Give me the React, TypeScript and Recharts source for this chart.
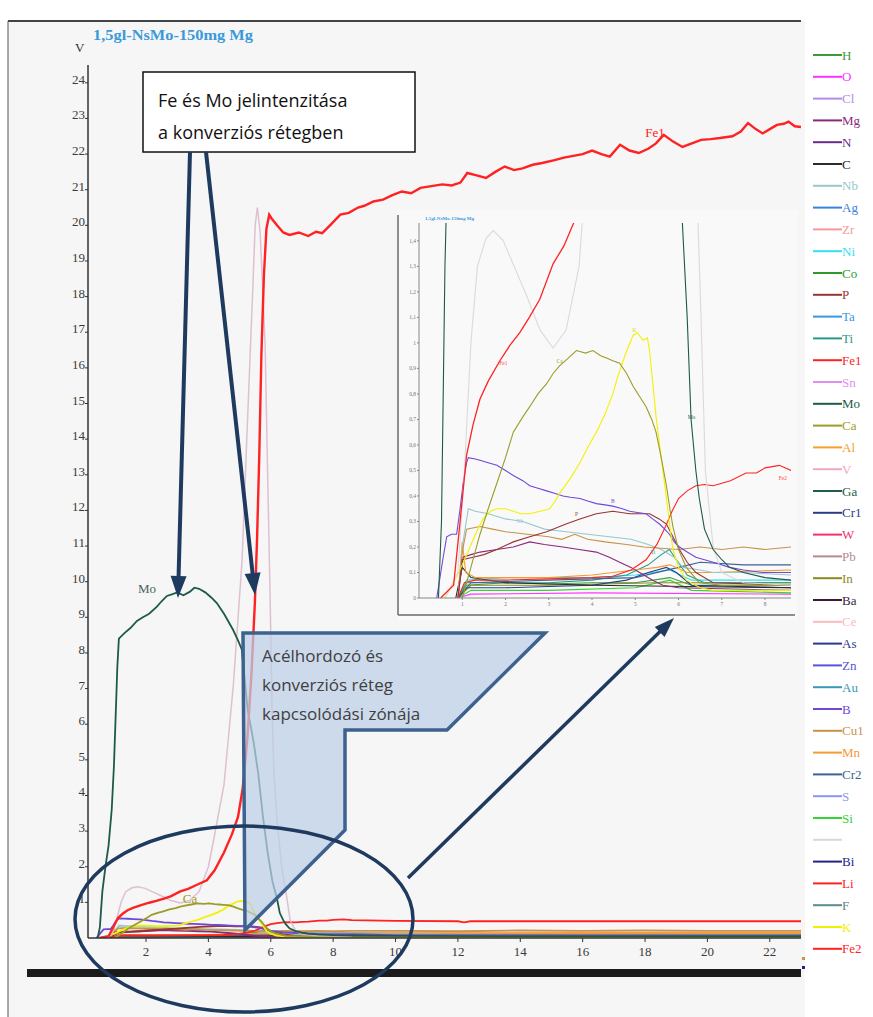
import React from 'react';
import { LineChart, Line, XAxis, YAxis, ReferenceDot } from 'recharts';

type Pt = [number, number];

// ---------- legend ----------
const LEGEND_NAMES = ['H','O','Cl','Mg','N','C','Nb','Ag','Zr','Ni','Co','P','Ta','Ti','Fe1','Sn','Mo','Ca','Al','V','Ga','Cr1','W','Pb','In','Ba','Ce','As','Zn','Au','B','Cu1','Mn','Cr2','S','Si','','Bi','Li','F','K','Fe2'];
const LEGEND_COLORS = ['#3c9a3c','#ff33ff','#b38ce6','#8b2a7a','#6a2a8a','#2b2b2b','#96c8cc','#3a80e0','#f49a9a','#33e0ee','#2e9a2e','#9a3333','#3a96e0','#2a9a88','#ff2222','#e08ef0','#1e5a48','#9c9c2a','#f5a030','#f2a6c6','#1e5e46','#2a3c88','#f2306e','#b88a8a','#8a8a22','#3c1a3c','#f8bcbc','#2a3a8e','#5454e0','#3a98b8','#7048d8','#c8924a','#f59a36','#3a6494','#8a96f0','#33d433','#d8d8d8','#222288','#ff2222','#5a8a8a','#f2f200','#ff2222'];

// ---------- ticks ----------
const MAIN_X_TICKS = [2, 4, 6, 8, 10, 12, 14, 16, 18, 20, 22];
const MAIN_Y_TICKS = [1,2,3,4,5,6,7,8,9,10,11,12,13,14,15,16,17,18,19,20,21,22,23,24];
const INSET_X_TICKS = [1, 2, 3, 4, 5, 6, 7, 8];
const INSET_Y_TICKS = [0,0.1,0.2,0.3,0.4,0.5,0.6,0.7,0.8,0.9,1,1.1,1.2,1.3,1.4];

// ---------- series (time s, intensity V) ----------
const FE1: Pt[] = [[0.5,0],[0.8,0.05],[0.95,0.3],[1.1,0.56],[1.25,0.68],[1.41,0.78],[1.6,0.85],[1.87,0.93],[2.1,0.99],[2.33,1.04],[2.55,1.1],[2.79,1.17],[3.1,1.31],[3.35,1.38],[3.6,1.48],[3.95,1.62],[4.2,1.9],[4.5,2.4],[4.75,2.9],[4.95,3.4],[5.1,4.2],[5.25,5.6],[5.38,7.4],[5.49,9.4],[5.56,11.2],[5.63,13.5],[5.7,16.4],[5.78,18.6],[5.86,19.9],[5.95,20.3],[6.02,20.2],[6.2,20.0],[6.4,19.8],[6.6,19.73],[6.9,19.8],[7.2,19.7],[7.45,19.82],[7.65,19.78],[7.9,20.0],[8.23,20.3],[8.5,20.35],[8.8,20.5],[9.0,20.55],[9.29,20.67],[9.6,20.72],[9.9,20.85],[10.2,20.95],[10.5,20.9],[10.8,21.05],[11.15,21.1],[11.5,21.15],[11.8,21.12],[12.08,21.2],[12.3,21.47],[12.6,21.4],[12.9,21.33],[13.2,21.5],[13.5,21.65],[13.8,21.55],[14.07,21.6],[14.4,21.7],[14.7,21.75],[15.1,21.83],[15.4,21.9],[15.7,21.95],[16.0,22.0],[16.3,22.1],[16.6,22.0],[16.87,21.93],[17.2,22.26],[17.5,22.1],[17.8,22.03],[18.1,22.15],[18.35,22.3],[18.6,22.54],[18.9,22.35],[19.2,22.2],[19.5,22.3],[19.8,22.4],[20.1,22.42],[20.4,22.45],[20.8,22.5],[21.07,22.63],[21.3,22.87],[21.55,22.7],[21.77,22.58],[22.0,22.7],[22.23,22.82],[22.45,22.85],[22.6,22.91],[22.8,22.78],[23,22.76]];
const MO: Pt[] = [[0.45,0],[0.52,0.3],[0.6,1.3],[0.7,2.0],[0.8,2.6],[0.9,3.6],[0.97,4.8],[1.03,6.3],[1.08,7.6],[1.13,8.4],[1.3,8.55],[1.5,8.7],[1.71,8.9],[1.9,9.0],[2.1,9.1],[2.35,9.3],[2.5,9.45],[2.67,9.6],[2.85,9.65],[3.0,9.7],[3.2,9.62],[3.41,9.72],[3.55,9.83],[3.7,9.8],[3.9,9.7],[4.1,9.55],[4.27,9.4],[4.5,9.1],[4.79,8.65],[4.95,8.35],[5.07,8.1],[5.17,7.2],[5.26,6.4],[5.45,5.5],[5.6,4.6],[5.75,3.4],[5.9,2.4],[6.05,1.6],[6.2,1.1],[6.29,0.7],[6.4,0.5],[6.48,0.39],[6.6,0.27],[6.8,0.19],[7.0,0.15],[7.18,0.12],[7.5,0.1],[8.0,0.08],[8.6,0.07],[10,0.06],[15,0.05],[23,0.05]];
const V: Pt[] = [[0.6,0],[0.9,0.1],[1.05,0.5],[1.2,1.0],[1.35,1.3],[1.55,1.41],[1.72,1.44],[1.95,1.4],[2.2,1.3],[2.5,1.18],[2.8,1.05],[3.1,0.98],[3.4,1.05],[3.7,1.3],[4.0,2.0],[4.2,2.9],[4.5,4.3],[4.8,7.1],[5.08,10.6],[5.24,14.2],[5.4,17.7],[5.5,20.0],[5.57,20.5],[5.66,19.8],[5.75,18.0],[5.82,16.6],[5.9,13],[5.98,9.5],[6.04,6.5],[6.1,4.6],[6.2,3.3],[6.35,2.0],[6.52,1.1],[6.62,0.5],[6.8,0.2],[7.0,0.1],[7.5,0.06],[8.6,0.05]];
const CA: Pt[] = [[1.0,0],[1.2,0.12],[1.41,0.25],[1.6,0.35],[1.8,0.45],[2.0,0.55],[2.18,0.65],[2.4,0.71],[2.56,0.75],[2.75,0.8],[2.95,0.84],[3.1,0.88],[3.25,0.91],[3.45,0.94],[3.64,0.97],[3.85,0.96],[4.02,0.97],[4.2,0.95],[4.35,0.94],[4.48,0.93],[4.64,0.92],[4.8,0.88],[4.95,0.83],[5.1,0.79],[5.25,0.75],[5.38,0.7],[5.48,0.65],[5.6,0.55],[5.72,0.44],[5.8,0.35],[5.87,0.28],[6.0,0.19],[6.18,0.12],[6.48,0.06],[7,0.05],[9,0.05],[23,0.05]];
const K: Pt[] = [[0.6,0],[0.87,0.085],[1.0,0.13],[1.18,0.2],[1.33,0.26],[1.48,0.31],[1.65,0.34],[1.8,0.35],[2.0,0.35],[2.18,0.34],[2.35,0.33],[2.56,0.33],[2.8,0.34],[3.02,0.35],[3.15,0.38],[3.25,0.41],[3.5,0.47],[3.72,0.53],[3.9,0.59],[4.1,0.65],[4.3,0.72],[4.48,0.8],[4.6,0.87],[4.72,0.93],[4.85,0.99],[4.95,1.03],[5.05,1.04],[5.18,1.01],[5.28,1.02],[5.33,0.97],[5.4,0.85],[5.48,0.71],[5.6,0.55],[5.72,0.39],[5.8,0.28],[5.87,0.19],[6.0,0.12],[6.18,0.07],[6.5,0.04],[6.8,0.03],[8,0.03],[23,0.03]];
const B: Pt[] = [[0.41,0],[0.55,0.15],[0.64,0.24],[0.75,0.25],[0.87,0.25],[0.95,0.35],[1.02,0.45],[1.1,0.53],[1.14,0.55],[1.3,0.545],[1.41,0.54],[1.6,0.53],[1.8,0.52],[2.0,0.5],[2.18,0.48],[2.4,0.46],[2.56,0.44],[2.75,0.43],[2.95,0.42],[3.15,0.41],[3.33,0.4],[3.5,0.395],[3.72,0.39],[3.9,0.38],[4.1,0.37],[4.3,0.365],[4.48,0.36],[4.7,0.35],[4.87,0.34],[5.05,0.335],[5.25,0.33],[5.4,0.31],[5.56,0.29],[5.68,0.27],[5.79,0.25],[5.9,0.22],[6.02,0.2],[6.2,0.18],[6.4,0.16],[6.6,0.15],[6.8,0.14],[7.18,0.12],[7.5,0.11],[7.95,0.1],[8.6,0.1],[10,0.08],[23,0.07]];
const FE2: Pt[] = [[0.9,0],[1.05,0.06],[1.3,0.07],[2,0.07],[3,0.075],[4,0.08],[4.48,0.085],[4.9,0.11],[5.25,0.15],[5.5,0.21],[5.7,0.28],[5.85,0.34],[6.0,0.39],[6.2,0.42],[6.4,0.44],[6.6,0.445],[6.8,0.44],[7.0,0.45],[7.2,0.46],[7.56,0.49],[7.8,0.49],[8.0,0.51],[8.33,0.52],[8.6,0.5],[10,0.48],[12,0.47],[12.2,0.44],[12.4,0.47],[16,0.47],[20,0.47],[23,0.47]];
const P: Pt[] = [[0.9,0],[1.0,0.15],[1.25,0.16],[1.5,0.17],[1.8,0.19],[2.18,0.22],[2.56,0.24],[2.95,0.26],[3.4,0.29],[3.72,0.31],[4.1,0.33],[4.48,0.34],[4.87,0.33],[5.33,0.33],[5.55,0.31],[5.72,0.29],[5.87,0.24],[6.02,0.19],[6.2,0.14],[6.4,0.1],[6.8,0.06],[8.6,0.05],[23,0.04]];
const MG: Pt[] = [[0.9,0],[1.02,0.16],[1.2,0.17],[1.41,0.18],[1.8,0.19],[2.18,0.2],[2.56,0.22],[2.9,0.21],[3.33,0.2],[3.7,0.19],[4.1,0.18],[4.4,0.16],[4.64,0.14],[4.9,0.12],[5.1,0.1],[5.4,0.07],[5.64,0.05],[6,0.04],[8.6,0.03],[23,0.03]];
const NB: Pt[] = [[0.9,0],[1.0,0.2],[1.14,0.35],[1.3,0.34],[1.6,0.33],[2.0,0.31],[2.4,0.3],[2.9,0.27],[3.4,0.26],[3.9,0.25],[4.4,0.24],[4.9,0.23],[5.3,0.21],[5.6,0.19],[5.9,0.16],[6.1,0.12],[6.5,0.11],[6.8,0.1],[7.5,0.1],[8.6,0.09],[23,0.08]];
const CU1: Pt[] = [[0.9,0],[1.0,0.18],[1.1,0.27],[1.41,0.28],[1.7,0.27],[2.0,0.26],[2.5,0.25],[3.0,0.24],[3.3,0.23],[3.6,0.25],[3.9,0.23],[4.3,0.22],[4.8,0.21],[5.2,0.2],[5.6,0.195],[6.0,0.19],[6.5,0.2],[7.0,0.19],[7.5,0.2],[8.0,0.19],[8.6,0.2],[10,0.2],[12,0.19],[14,0.21],[16,0.2],[18,0.21],[20,0.2],[23,0.2]];
const MN: Pt[] = [[0.9,0],[1.0,0.22],[1.08,0.1],[1.3,0.08],[2,0.08],[3,0.08],[4,0.09],[4.48,0.1],[5.0,0.11],[5.5,0.12],[5.8,0.13],[6.2,0.1],[6.8,0.1],[8.6,0.11],[12,0.13],[16,0.14],[20,0.14],[23,0.14]];
const TI: Pt[] = [[0.9,0],[1.1,0.06],[2,0.06],[3,0.06],[4,0.07],[4.8,0.09],[5.3,0.13],[5.6,0.17],[5.79,0.19],[5.95,0.15],[6.2,0.09],[6.6,0.06],[8.6,0.06],[23,0.05]];
const CR1: Pt[] = [[0.9,0],[1.1,0.04],[2,0.04],[3,0.045],[4,0.05],[4.8,0.07],[5.3,0.1],[5.72,0.12],[5.95,0.1],[6.3,0.05],[8.6,0.04],[23,0.04]];
const H: Pt[] = [[0.9,0],[1.1,0.05],[2,0.06],[3,0.055],[4,0.06],[5,0.06],[5.8,0.08],[6.3,0.05],[8.6,0.05],[23,0.04]];
const NI: Pt[] = [[0.9,0],[1.1,0.07],[2,0.08],[3,0.08],[4,0.08],[5,0.09],[5.8,0.11],[6.3,0.07],[8.6,0.07],[23,0.06]];
const SI: Pt[] = [[0.9,0],[1.2,0.03],[3,0.03],[5,0.04],[5.8,0.07],[6.3,0.03],[8.6,0.02],[23,0.02]];
const O: Pt[] = [[0.9,0],[1.2,0.015],[4,0.02],[8.6,0.015],[23,0.01]];
const IN: Pt[] = [[0.9,0],[1.2,0.05],[3,0.05],[5.5,0.06],[7,0.06],[12,0.06],[23,0.06]];
const CR2: Pt[] = [[0.9,0],[1.2,0.06],[3,0.07],[5.0,0.08],[6,0.12],[6.5,0.14],[7.5,0.13],[8.6,0.13],[23,0.1]];
const C: Pt[] = [[0.85,0],[1.0,0.12],[1.2,0.08],[2,0.06],[4,0.05],[8.6,0.04],[23,0.03]];

const SERIES_DATA: Record<string, Pt[]> = { O, Si: SI, H, Ni: NI, In: IN, Cr1: CR1, Ti: TI, C, Cr2: CR2, Mn: MN, Mg: MG, Nb: NB, Cu1: CU1, P, Fe2: FE2, B, K, Ca: CA, V, Mo: MO, Fe1: FE1 };
const DRAW_ORDER = ['O','Si','H','Ni','In','Cr1','Ti','C','Cr2','Mn','Mg','Nb','Cu1','P','Fe2','B','K','Ca','V','Mo','Fe1'];

const MAIN_LABELS = [
  { t: 'Mo', x: 2.03, y: 9.82, c: '#4a6458' },
  { t: 'Fe1', x: 18.32, y: 22.62, c: '#ff2222' },
  { t: 'Ca', x: 3.41, y: 1.1, c: '#9c9c2a' },
];
const INSET_LABELS = [
  { t: 'Fe1', x: 1.95, y: 0.92, c: '#ff4444' },
  { t: 'Ca', x: 3.25, y: 0.93, c: '#9c9c2a' },
  { t: 'K', x: 4.98, y: 1.05, c: '#d8d800' },
  { t: 'Mo', x: 6.3, y: 0.71, c: '#1e5a48' },
  { t: 'Fe2', x: 8.41, y: 0.47, c: '#ff4444' },
  { t: 'B', x: 4.48, y: 0.38, c: '#7048d8' },
  { t: 'P', x: 3.64, y: 0.33, c: '#9a3333' },
  { t: 'Nb', x: 2.33, y: 0.3, c: '#96c8cc' },
  { t: 'Ti', x: 5.41, y: 0.18, c: '#2a9a88' },
];

const colorOf = (n: string) => LEGEND_COLORS[LEGEND_NAMES.indexOf(n)];
const rowsOf = (pts: Pt[]) => pts.map(([x, y]) => ({ x, y }));

const SERIF = "'Liberation Serif', 'DejaVu Serif', serif";
const SANS = "'Open Sans', 'Noto Sans', sans-serif";

const MainYTick = (p: any) => (
  <text x={p.x} y={p.y + 1} textAnchor="end" fontSize={13} fontFamily={SERIF} fill="#3a3a3a">{p.payload.value}</text>
);
const MainXTick = (p: any) => (
  <text x={p.x} y={p.y + 12} textAnchor="middle" fontSize={13} fontFamily={SERIF} fill="#3a3a3a">{p.payload.value}</text>
);
const InsetYTick = (p: any) => (
  <text x={p.x} y={p.y + 2} textAnchor="end" fontSize={5.5} fontFamily={SERIF} fill="#777">{String(p.payload.value).replace('.', ',')}</text>
);
const InsetXTick = (p: any) => (
  <text x={p.x} y={p.y + 5} textAnchor="middle" fontSize={5.5} fontFamily={SERIF} fill="#777">{p.payload.value}</text>
);

function Arrow({ x1, y1, x2, y2, w, head, hw, color }: any) {
  const dx = x2 - x1, dy = y2 - y1;
  const L = Math.hypot(dx, dy);
  const ux = dx / L, uy = dy / L;
  const bx = x2 - ux * head, by = y2 - uy * head;
  const px = -uy * hw, py = ux * hw;
  return (
    <g>
      <line x1={x1} y1={y1} x2={bx + ux * 2} y2={by + uy * 2} stroke={color} strokeWidth={w} />
      <polygon points={`${x2},${y2} ${bx + px},${by + py} ${bx - px},${by - py}`} fill={color} />
    </g>
  );
}

export default function App() {
  const navy = '#1f3a5f';
  return (
    <div style={{ position: 'absolute', left: 0, top: 0, width: 873, height: 1017, background: '#ffffff', overflow: 'hidden' }}>
      <div style={{ position: 'absolute', left: 8, top: 21, width: 797, height: 996, background: '#f6f6f6' }} />
      {/* main chart */}
      <div style={{ position: 'absolute', left: 0, top: 0 }}>
        <LineChart width={805} height={1017} margin={{ top: 65, right: 4, bottom: 49, left: 28 }}>
          <XAxis type="number" dataKey="x" domain={[0.14, 23]} ticks={MAIN_X_TICKS} interval={0} allowDataOverflow
            height={30} tickSize={4} tickMargin={2} tick={MainXTick}
            axisLine={{ stroke: '#333', strokeWidth: 1.5 }} tickLine={{ stroke: '#333' }} />
          <YAxis type="number" domain={[0, 24.5]} ticks={MAIN_Y_TICKS} interval={0} allowDataOverflow
            width={60} tickSize={3} tickMargin={0} tick={MainYTick}
            axisLine={{ stroke: '#333', strokeWidth: 1.5 }} tickLine={{ stroke: '#333' }} />
          {DRAW_ORDER.map((n) => (
            <Line key={n} name={n} data={rowsOf(SERIES_DATA[n])} dataKey="y" type="linear" dot={false}
              stroke={n === 'V' ? '#d9b6cb' : colorOf(n)} strokeOpacity={n === 'V' ? 0.85 : 1}
              strokeWidth={n === 'Fe1' ? 2.4 : n === 'V' ? 1.5 : 1.8} isAnimationActive={false} />
          ))}
          {MAIN_LABELS.map((l) => (
            <ReferenceDot key={l.t} x={l.x} y={l.y} r={1} fill="none" stroke="none"
              label={{ value: l.t, position: 'center', fill: l.c, fontSize: 13, fontFamily: SERIF }} />
          ))}
        </LineChart>
      </div>
      {/* inset zoom chart */}
      <div style={{ position: 'absolute', left: 398, top: 210, width: 400, height: 410, background: '#f9f9f9' }}>
        <LineChart width={400} height={410} margin={{ top: 13, right: 7, bottom: 10, left: 5 }}>
          <XAxis type="number" dataKey="x" domain={[0, 8.6]} ticks={INSET_X_TICKS} interval={0} allowDataOverflow
            height={12} tickSize={2} tickMargin={1} tick={InsetXTick}
            axisLine={{ stroke: '#888', strokeWidth: 1 }} tickLine={{ stroke: '#888' }} />
          <YAxis type="number" domain={[0, 1.47]} ticks={INSET_Y_TICKS} interval={0} allowDataOverflow
            width={16} tickSize={2} tickMargin={1} tick={InsetYTick}
            axisLine={{ stroke: '#888', strokeWidth: 1 }} tickLine={{ stroke: '#888' }} />
          {DRAW_ORDER.map((n) => (
            <Line key={n} name={n} data={rowsOf(SERIES_DATA[n])} dataKey="y" type="linear" dot={false}
              stroke={n === 'V' ? '#ddd8dc' : colorOf(n)}
              strokeWidth={n === 'Fe1' ? 1.3 : 1.1} isAnimationActive={false} />
          ))}
          {INSET_LABELS.map((l) => (
            <ReferenceDot key={l.t} x={l.x} y={l.y} r={1} fill="none" stroke="none"
              label={{ value: l.t, position: 'center', fill: l.c, fontSize: 5.5, fontFamily: SERIF }} />
          ))}
        </LineChart>
      </div>
      {/* legend */}
      <svg style={{ position: 'absolute', left: 0, top: 0 }} width={873} height={1017}>
        {LEGEND_NAMES.map((n, i) => {
          const y = 55 + i * 21.8;
          return (
            <g key={i}>
              <line x1={813} x2={842} y1={y} y2={y} stroke={LEGEND_COLORS[i]} strokeWidth={2} />
              <text x={842} y={y + 4.5} fontSize={13} fontFamily={SERIF} fill={LEGEND_COLORS[i]}>{n}</text>
            </g>
          );
        })}
      </svg>
      {/* annotations */}
      <svg style={{ position: 'absolute', left: 0, top: 0, pointerEvents: 'none' }} width={873} height={1017}>
        <line x1={8} y1={21} x2={801} y2={21} stroke="#444" strokeWidth={2} />
        <line x1={8} y1={21} x2={8} y2={1017} stroke="#555" strokeWidth={1} />
        <rect x={27} y={969} width={774} height={8} fill="#1c1c1c" />
        <rect x={802} y={957} width={3} height={3} fill="#c8924a" />
        <rect x={802} y={966} width={3} height={3} fill="#222288" />
        <text x={93} y={40} fontSize={14} fontWeight="bold" fontFamily={SERIF} fill="#3a9ad9" textLength={160} lengthAdjust="spacingAndGlyphs">1,5gl-NsMo-150mg Mg</text>
        <text x={75} y={52} fontSize={13} fontFamily={SERIF} fill="#333">V</text>

        {/* inset frame */}
        <line x1={398} y1={215} x2={398} y2={615} stroke="#6a6a6a" strokeWidth={1.5} />
        <line x1={398} y1={615} x2={795} y2={615} stroke="#6a6a6a" strokeWidth={1.5} />
        <text x={425} y={220} fontSize={5} fontWeight="bold" fontFamily={SERIF} fill="#3a9ad9">1,5gl-NsMo-150mg Mg</text>

        {/* label box */}
        <rect x={143} y={72} width={272} height={80} fill="#ffffff" stroke="#111" strokeWidth={1.5} />
        <text x={158} y={107} fontSize={18} fontFamily={SANS} fill="#111">Fe és Mo jelintenzitása</text>
        <text x={158} y={139} fontSize={18} fontFamily={SANS} fill="#111">a konverziós rétegben</text>
        <Arrow x1={190} y1={152} x2={178} y2={598} w={4} head={22} hw={8} color={navy} />
        <Arrow x1={206} y1={152} x2={255} y2={595} w={4} head={22} hw={8} color={navy} />

        {/* callout */}
        <path d="M243,633 L545,633 L447,730 L345,730 L345,830 L245,930 Z" fill="#bccfe8" fillOpacity={0.72} stroke="#3d6290" strokeWidth={3.5} strokeLinejoin="miter" />
        <text x={262} y={662} fontSize={17} fontFamily={SANS} fill="#404040">Acélhordozó és</text>
        <text x={262} y={691} fontSize={17} fontFamily={SANS} fill="#404040">konverziós réteg</text>
        <text x={262} y={720} fontSize={17} fontFamily={SANS} fill="#404040">kapcsolódási zónája</text>

        {/* ellipse + arrow to inset */}
        <ellipse cx={244} cy={919} rx={169} ry={93} fill="none" stroke={navy} strokeWidth={3.5} />
        <Arrow x1={408} y1={878} x2={674} y2={618} w={3.5} head={20} hw={7} color={navy} />
      </svg>
    </div>
  );
}
